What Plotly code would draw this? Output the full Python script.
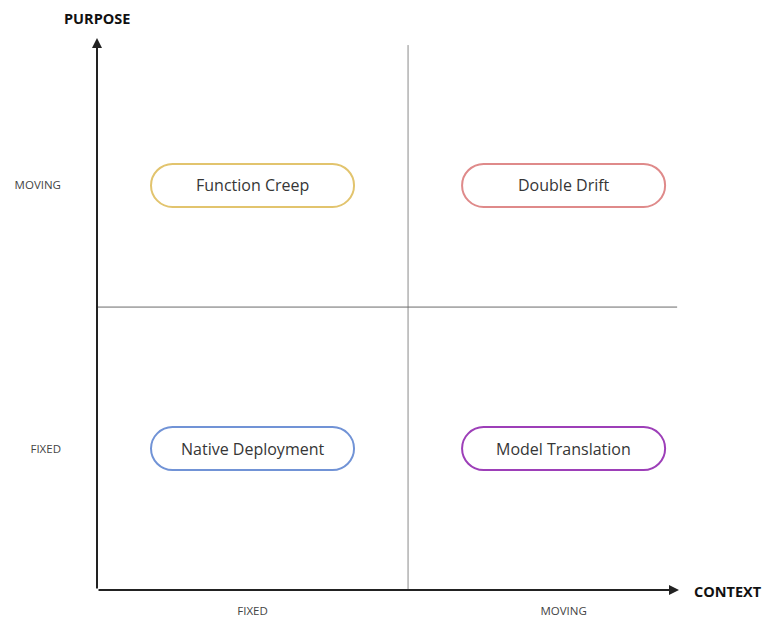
import plotly.graph_objects as go

# ---- data ----
context_levels = ["FIXED", "MOVING"]
purpose_levels = ["FIXED", "MOVING"]
scenario_names = ["Function Creep", "Double Drift", "Native Deployment", "Model Translation"]
scenario_context = ["FIXED", "MOVING", "FIXED", "MOVING"]
scenario_purpose = ["MOVING", "MOVING", "FIXED", "FIXED"]
scenario_colors = ["#e2c46e", "#df8a8a", "#7193d6", "#9d3fb8"]
x_axis_title = "CONTEXT"
y_axis_title = "PURPOSE"

# ---- layout constants (axis units: divider at 1) ----
context_centers = {"FIXED": 0.5, "MOVING": 1.5}
purpose_centers = {"FIXED": 0.5, "MOVING": 1.43}
X_MAX = 1.871
Y_MAX = 1.951
PX_X = 311.0  # pixels per x unit
PX_Y = 283.0  # pixels per y unit
PLOT_W = 582.0
PLOT_H = 552.0

fig = go.Figure()

# invisible trace to anchor axes
fig.add_trace(go.Scatter(
    x=[context_centers[c] for c in scenario_context],
    y=[purpose_centers[p] for p in scenario_purpose],
    mode="markers", marker=dict(size=1, opacity=0), hoverinfo="skip", showlegend=False))

def pill_path(cx, cy, hw_px=101.5, hh_px=21.5):
    hw = hw_px / PX_X
    hh = hh_px / PX_Y
    rx = hh_px / PX_X
    ry = hh
    k = 0.5523
    x0, x1 = cx - hw, cx + hw
    y0, y1 = cy - hh, cy + hh
    p = []
    p.append(f"M {x0+rx},{y1}")
    p.append(f"L {x1-rx},{y1}")
    p.append(f"C {x1-rx+k*rx},{y1} {x1},{cy+k*ry} {x1},{cy}")
    p.append(f"C {x1},{cy-k*ry} {x1-rx+k*rx},{y0} {x1-rx},{y0}")
    p.append(f"L {x0+rx},{y0}")
    p.append(f"C {x0+rx-k*rx},{y0} {x0},{cy-k*ry} {x0},{cy}")
    p.append(f"C {x0},{cy+k*ry} {x0+rx-k*rx},{y1} {x0+rx},{y1}")
    p.append("Z")
    return " ".join(p)

shapes = []
annotations = []

# quadrant dividers
shapes.append(dict(type="line", xref="x", yref="y", x0=1, x1=1, y0=0, y1=1.926,
                   line=dict(color="#8a8a8a", width=1)))
shapes.append(dict(type="line", xref="x", yref="y", x0=0, x1=1.865, y0=1, y1=1,
                   line=dict(color="#6a6a6a", width=1)))

for name, c, p, col in zip(scenario_names, scenario_context, scenario_purpose, scenario_colors):
    cx, cy = context_centers[c], purpose_centers[p]
    shapes.append(dict(type="path", xref="x", yref="y", path=pill_path(cx, cy),
                       line=dict(color=col, width=2), fillcolor="white", layer="above"))
    annotations.append(dict(x=cx, y=cy, xref="x", yref="y", text=name, showarrow=False,
                            xanchor="center", yanchor="middle",
                            font=dict(family="Open Sans", size=16, color="#363636")))

# axis arrows
annotations.append(dict(x=0, y=Y_MAX, ax=0, ay=0, xref="x", yref="y", axref="x", ayref="y",
                        text="", showarrow=True, arrowhead=2, arrowsize=1, arrowwidth=2,
                        arrowcolor="#222222"))
annotations.append(dict(x=X_MAX, y=0, ax=0, ay=0, xref="x", yref="y", axref="x", ayref="y",
                        text="", showarrow=True, arrowhead=2, arrowsize=1, arrowwidth=2,
                        arrowcolor="#222222"))

# axis titles
annotations.append(dict(x=0, y=(590 - 18) / PLOT_H, xref="paper", yref="paper",
                        xanchor="center", yanchor="middle",
                        text=f"<b>{y_axis_title}</b>", showarrow=False,
                        font=dict(family="Open Sans", size=14.5, color="#111111")))
annotations.append(dict(x=(728 - 97) / PLOT_W, y=(590 - 591) / PLOT_H, xref="paper", yref="paper",
                        xanchor="center", yanchor="middle",
                        text=f"<b>{x_axis_title}</b>", showarrow=False,
                        font=dict(family="Open Sans", size=14.5, color="#111111")))

# page body has an 8px margin: shrink the figure and margins accordingly
fig.update_layout(
    width=762, height=616,
    margin=dict(l=89, r=91, t=30, b=34),
    paper_bgcolor="white", plot_bgcolor="white",
    shapes=shapes, annotations=annotations,
    showlegend=False,
    xaxis=dict(range=[0, X_MAX], showgrid=False, zeroline=False, showline=False,
               tickvals=[context_centers[c] for c in context_levels], ticktext=context_levels,
               ticks="", ticklabelstandoff=12, automargin=False,
               tickfont=dict(family="Open Sans", size=11.5, color="#444444"), fixedrange=True),
    yaxis=dict(range=[0, Y_MAX], showgrid=False, zeroline=False, showline=False,
               tickvals=[purpose_centers[p] for p in purpose_levels], ticktext=purpose_levels,
               ticks="", ticklabelstandoff=35, automargin=False,
               tickfont=dict(family="Open Sans", size=11.5, color="#444444"), fixedrange=True),
)

fig.write_html("out.html")
